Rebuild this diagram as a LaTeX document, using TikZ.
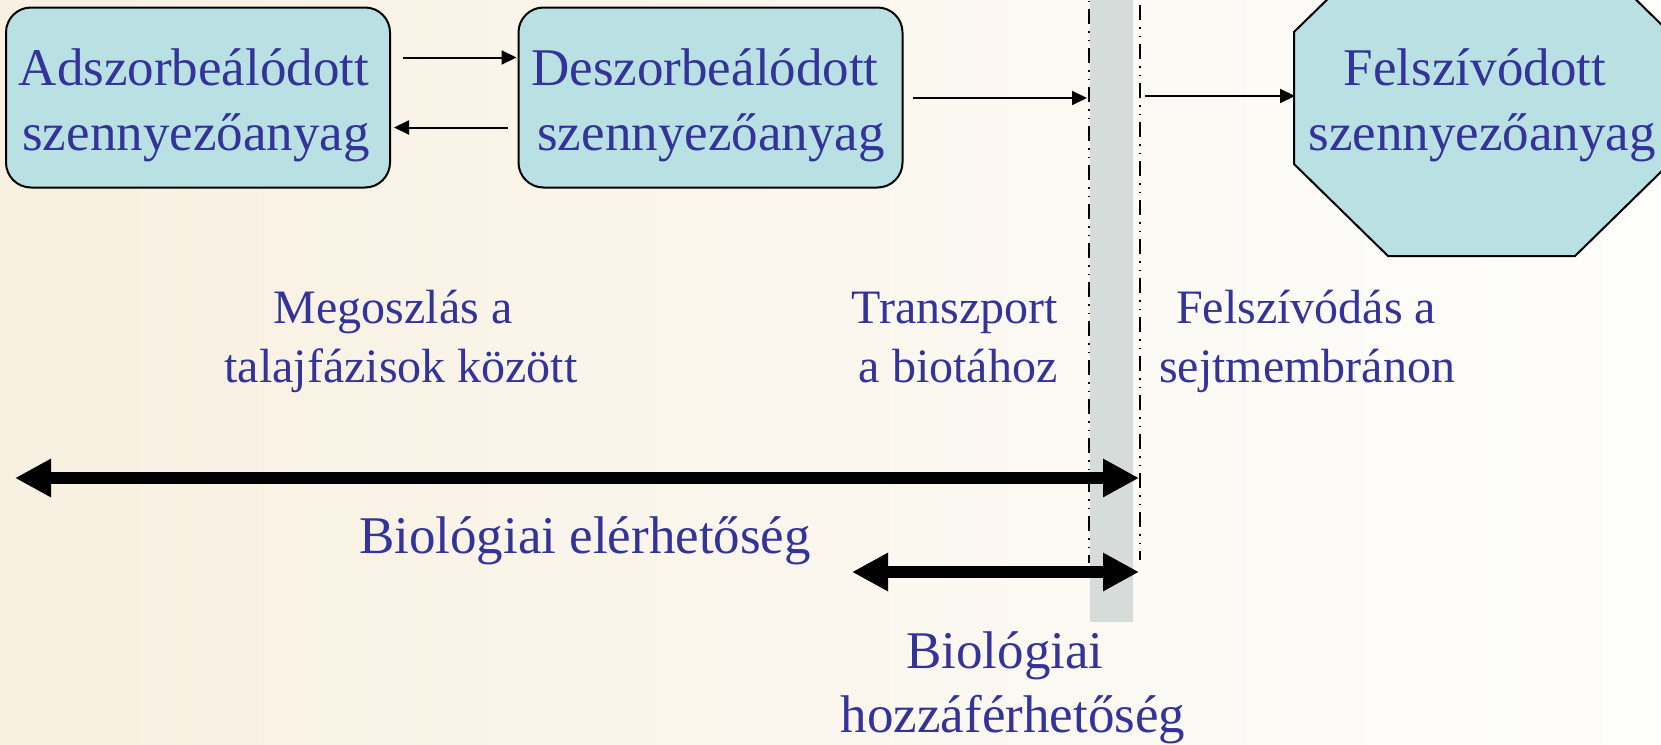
\documentclass[tikz,border=0pt]{standalone}
\usepackage{fontspec}
\setmainfont{Liberation Serif}
\usetikzlibrary{arrows.meta,calc}
\definecolor{txtblue}{HTML}{333399}
\definecolor{boxfill}{HTML}{B9E0E3}
\definecolor{bgL}{HTML}{F8F0E0}
\definecolor{bgR}{HTML}{FEFEFD}
\definecolor{bandgray}{HTML}{D5DCD9}
\begin{document}
\begin{tikzpicture}[x=1pt,y=-1pt,
  box/.style={draw=black, line width=2pt, fill=boxfill, rounded corners=25pt,
    minimum width=384pt, minimum height=180pt, inner sep=0pt},
  bigtxt/.style={font=\fontsize{53}{65}\selectfont, text=txtblue, anchor=base, inner sep=0pt},
  smalltxt/.style={font=\fontsize{48}{59}\selectfont, text=txtblue, anchor=base, inner sep=0pt},
  thinarrow/.style={line width=2pt, -{Triangle[length=15pt,width=14pt]}},
  bigarrow/.style={line width=12pt, {Triangle[length=36pt,width=36pt]}-{Triangle[length=36pt,width=36pt]}},
  memline/.style={line width=2pt, dash pattern=on 15pt off 7pt on 1.5pt off 7pt on 1.5pt off 7pt},
  octline/.style={draw=black, line width=2pt, fill=boxfill}]
\useasboundingbox (0,0) rectangle (1661,744);
\clip (0,0) rectangle (1661,744);
\shade[left color=bgL, right color=bgR] (0,0) rectangle (1661,744);

% membrane
\node[fill=bandgray, minimum width=43pt, minimum height=622pt, inner sep=0pt, anchor=north west] (band) at (1090,0) {};
\coordinate (mLtop) at (1089,0);
\coordinate (mLbot) at (1089,563);
\coordinate (mRtop) at (1140,5);
\coordinate (mRbot) at (1140,560);
\draw[memline, dash phase=30pt] (mLtop) -- (mLbot);
\draw[memline] (mRtop) -- (mRbot);

% boxes
\node[box] (box1) at (198,97.5) {};
\node[box] (box2) at (710.5,97.5) {};
\node[bigtxt] (b1a) at (194,85) {Adszorbeálódott};
\node[bigtxt] (b1b) at (196,150) {szennyezőanyag};
\node[bigtxt] (b2a) at (705,85) {Deszorbeálódott};
\node[bigtxt] (b2b) at (711,150) {szennyezőanyag};

% octagon
\coordinate (o1) at (1294,32);
\coordinate (o2) at (1294,164);
\coordinate (o3) at (1388,256);
\coordinate (o4) at (1575,256);
\coordinate (o5) at (1669,164);
\coordinate (o6) at (1669,32);
\coordinate (o7) at (1575,-60);
\coordinate (o8) at (1388,-60);
\draw[octline] (o1) -- (o2) -- (o3) -- (o4) -- (o5) -- (o6) -- (o7) -- (o8) -- cycle;
\coordinate (octW) at (1295,96);
\node[bigtxt] (oa) at (1475,85) {Felszívódott};
\node[bigtxt] (ob) at (1482,150) {szennyezőanyag};

% thin arrows
\draw[thinarrow] ($(box1.east)+(12,-40)$) -- ($(box2.west)+(-1,-40)$);
\draw[thinarrow] ($(box2.west)+(-10,30)$) -- ($(box1.east)+(3,30)$);
\coordinate (memIn) at (1087,98);
\draw[thinarrow] ($(box2.east)+(9,0.5)$) -- (memIn);
\coordinate (memOut) at (1145,96);
\draw[thinarrow] (memOut) -- (octW);

% labels
\node[smalltxt] (l1a) at (393,323) {Megoszlás a};
\node[smalltxt] (l1b) at (401,382) {talajfázisok között};
\node[smalltxt] (l2a) at (955,323) {Transzport};
\node[smalltxt] (l2b) at (958,382) {a biotához};
\node[smalltxt] (l3a) at (1306,323) {Felszívódás a};
\node[smalltxt] (l3b) at (1307,382) {sejtmembránon};

% big arrows
\coordinate (baL) at (15,478);
\coordinate (baR) at (1139,478);
\draw[bigarrow] (baL) -- (baR);
\node[bigtxt] (be) at (585,553) {Biológiai elérhetőség};
\coordinate (saL) at (852,572);
\coordinate (saR) at (1139,572);
\draw[bigarrow] (saL) -- (saR);
\node[bigtxt] (bha) at (1005,668) {Biológiai};
\node[bigtxt] (bhb) at (1013,732) {hozzáférhetőség};
\end{tikzpicture}
\end{document}
